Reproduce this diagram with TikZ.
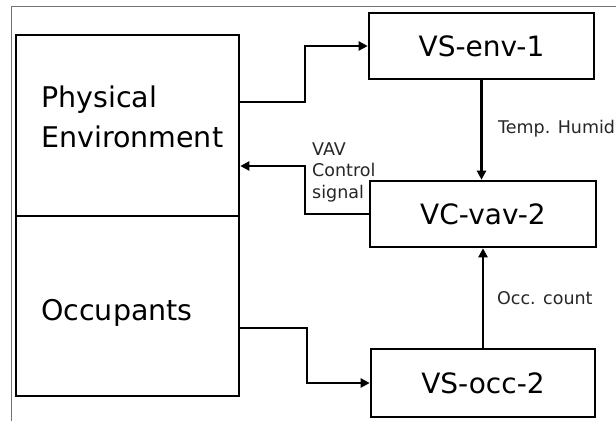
\documentclass[tikz,border=0pt]{standalone}
\usepackage{fontspec}
\setmainfont{DejaVu Sans}
\usetikzlibrary{arrows.meta}
\begin{document}
\begin{tikzpicture}[x=1pt,y=-1pt,
  box/.style={draw=black, line width=2.6pt, inner sep=0pt, font=\fontsize{28}{33}\selectfont},
  biglabel/.style={anchor=base west, inner sep=0pt, font=\fontsize{28.5}{34}\selectfont},
  small/.style={anchor=base west, inner sep=0pt, font=\fontsize{17.5}{21.5}\selectfont, text=black!85},
  conn/.style={draw=black, line width=2.3pt, -{Triangle[length=9pt,width=9pt]}}]
\useasboundingbox (0,0) rectangle (616,421);
\fill[white] (0,0) rectangle (616,421);
% outer frame
\draw[black!55, line width=1pt] (11,421) -- (11,6) -- (616,6);
% left boxes
\node[box, minimum width=223pt, minimum height=181pt] (pe) at (127.5,125.5) {};
\node[box, minimum width=223pt, minimum height=180pt] (occ) at (127.5,306) {};
\node[biglabel] (pel1) at (41,107) {Physical};
\node[biglabel] (pel2) at (41,147) {Environment};
\node[biglabel] (occl) at (41,320) {Occupants};
% right boxes
\node[box, minimum width=225pt, minimum height=66pt] (env) at (481.5,46) {VS-env-1};
\node[box, minimum width=226pt, minimum height=66pt] (vav) at (483,214) {VC-vav-2};
\node[box, minimum width=224pt, minimum height=68pt] (socc) at (483,383) {VS-occ-2};
% bend points
\coordinate (b1) at (305,102);
\coordinate (b2) at (305,166);
\coordinate (b3) at (307,328);
% connectors
\draw[conn] (pe.east |- b1) -- (b1) |- (env.west);
\draw[conn] (vav.west) -| (b2) -- (pe.east |- b2);
\draw[conn] (occ.east |- b3) -- (b3) |- (socc.west);
\draw[conn] (env.south) -- (env.south |- vav.north);
\draw[conn] (socc.north) -- (socc.north |- vav.south);
% labels
\node[small] (temp) at (498,133) {Temp. Humid};
\node[small] (occc) at (497,304) {Occ. count};
\node[small, align=left] (vavl) at (312,198) {VAV\\Control\\signal};
\end{tikzpicture}
\end{document}
